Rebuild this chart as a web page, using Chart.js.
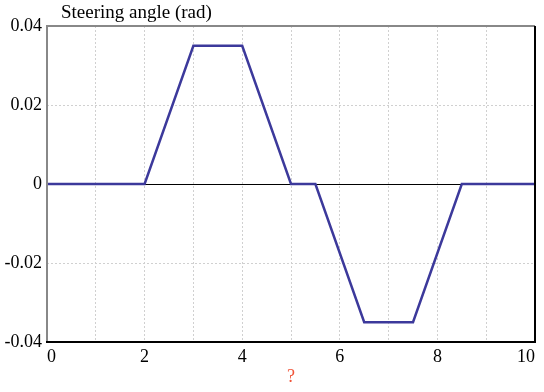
<!DOCTYPE html>
<html>
<head>
<meta charset="utf-8">
<script src="https://cdn.jsdelivr.net/npm/chart.js@4/dist/chart.umd.min.js"></script>
<style>
  html, body { margin: 0; padding: 0; background: #fff; }
  #wrap { width: 544px; height: 392px; }
</style>
</head>
<body>
<div id="wrap"><canvas id="chart" width="544" height="392"></canvas></div>
<script>
// Steering angle over time
const timeValues = [0, 2, 3, 4, 5, 5.5, 6.5, 7.5, 8.5, 10];
const angleValues = [0, 0, 0.035, 0.035, 0, 0, -0.035, -0.035, 0, 0];
const gridTicks = [0, 1, 2, 3, 4, 5, 6, 7, 8, 9, 10];
const chartTitle = 'Steering angle (rad)';
const xTitle = '?';

const fontFamily = '"Liberation Serif", "Times New Roman", serif';

// Box round the plot area plus the solid zero line and the top-left caption
const framePlugin = {
    id: 'frame',
    beforeDatasetsDraw(chart) {
        const { ctx, chartArea: a, scales } = chart;
        const y0 = scales.y.getPixelForValue(0);
        ctx.save();
        ctx.strokeStyle = '#000';
        ctx.lineWidth = 1;
        ctx.beginPath();
        ctx.moveTo(a.left, Math.round(y0) + 0.5);
        ctx.lineTo(a.right, Math.round(y0) + 0.5);
        ctx.stroke();
        ctx.restore();
    },
    afterDraw(chart) {
        const { ctx, chartArea: a } = chart;
        ctx.save();
        ctx.lineWidth = 2;
        ctx.strokeStyle = '#888';
        ctx.beginPath();
        ctx.moveTo(a.left, a.bottom);
        ctx.lineTo(a.left, a.top);
        ctx.lineTo(a.right, a.top);
        ctx.stroke();
        ctx.strokeStyle = '#000';
        ctx.beginPath();
        ctx.moveTo(a.right, a.top);
        ctx.lineTo(a.right, a.bottom);
        ctx.lineTo(a.left - 1, a.bottom);
        ctx.stroke();

        ctx.fillStyle = '#000';
        ctx.font = '19px ' + fontFamily;
        ctx.textBaseline = 'middle';
        ctx.textAlign = 'left';
        ctx.fillText(chartTitle, a.left + 14, 13);
        ctx.restore();
    }
};

function drawChart() {
    const ctx = document.getElementById('chart').getContext('2d');
    new Chart(ctx, {
        type: 'line',
        data: {
            datasets: [{
                data: timeValues.map((t, i) => ({ x: t, y: angleValues[i] })),
                borderColor: '#3c399b',
                borderWidth: 2.5,
                pointRadius: 0,
                tension: 0,
                fill: false
            }]
        },
        options: {
            responsive: false,
            animation: false,
            layout: { padding: { top: 26, right: 9, left: 0, bottom: 4 } },
            plugins: {
                legend: { display: false },
                tooltip: { enabled: false }
            },
            scales: {
                x: {
                    type: 'linear',
                    min: 0,
                    max: 10,
                    afterFit: scale => { scale.height = 46; },
                    afterBuildTicks: scale => {
                        scale.ticks = gridTicks.map(v => ({ value: v }));
                    },
                    ticks: {
                        color: '#000',
                        align: 'inner',
                        padding: 4,
                        font: { family: fontFamily, size: 18 },
                        callback: v => (v % 2 === 0 ? String(v) : '')
                    },
                    grid: {
                        color: '#d0d0d0',
                        drawTicks: false,
                        lineWidth: 1
                    },
                    border: { display: false, dash: [2, 2] },
                    title: {
                        display: true,
                        text: xTitle,
                        color: '#f0553a',
                        font: { family: fontFamily, size: 18 },
                        padding: { top: 4, bottom: 0 }
                    }
                },
                y: {
                    min: -0.04,
                    max: 0.04,
                    afterFit: scale => { scale.width = 47; },
                    ticks: {
                        stepSize: 0.02,
                        color: '#000',
                        padding: 5,
                        font: { family: fontFamily, size: 18 },
                        callback: v => (Math.abs(v) < 1e-9 ? '0' : v.toFixed(2))
                    },
                    grid: {
                        color: '#d0d0d0',
                        drawTicks: false,
                        lineWidth: 1
                    },
                    border: { display: false, dash: [2, 2] }
                }
            }
        },
        plugins: [framePlugin]
    });
}

document.fonts.load('18px "Liberation Serif"').then(drawChart, drawChart);
</script>
</body>
</html>
